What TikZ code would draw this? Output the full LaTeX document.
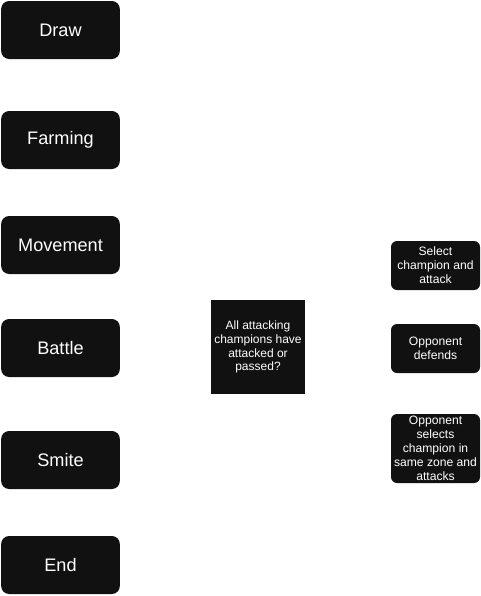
\documentclass[tikz,border=0pt]{standalone}
\usepackage{fontspec}
\setmainfont{Liberation Sans}
\definecolor{boxfill}{HTML}{111111}
\begin{document}
\begin{tikzpicture}[x=0.75pt,y=-0.75pt,
  phase/.style={fill=boxfill,rounded corners=6pt,text=white,font=\fontsize{13.6}{16}\selectfont,inner sep=0pt},
  small/.style={fill=boxfill,rounded corners=4.5pt,text=white,font=\fontsize{9.1}{10.4}\selectfont,align=center,inner sep=0pt},
  decide/.style={fill=boxfill,text=white,font=\fontsize{9}{10.4}\selectfont,align=center,inner sep=0pt}]
\useasboundingbox (0,0) rectangle (481,596);
\path[fill=white] (0,0) rectangle (481,596);
\node[phase,minimum width=89pt,minimum height=43.5pt] (draw) at (60.5,30) {Draw};
\node[phase,minimum width=89pt,minimum height=43.5pt] (farm) at (60.5,140) {Farming};
\node[phase,minimum width=89pt,minimum height=43.5pt] (move) at (60.5,245) {Movement};
\node[phase,minimum width=89pt,minimum height=43.5pt] (battle) at (60.5,348) {Battle};
\node[phase,minimum width=89pt,minimum height=43.5pt] (smite) at (60.5,460) {Smite};
\node[phase,minimum width=89pt,minimum height=43.5pt] (end) at (60.5,565) {End};
\node[decide,minimum width=70.5pt,minimum height=70.5pt] (check) at (258,347) {All attacking\\champions have\\attacked or\\passed?};
\node[small,minimum width=66.75pt,minimum height=36.75pt] (select) at (435.5,265.5) {Select\\champion and\\attack};
\node[small,minimum width=66.75pt,minimum height=36.75pt] (defend) at (435.5,348.5) {Opponent\\defends};
\node[small,minimum width=66.75pt,minimum height=51.75pt] (oppsel) at (435.5,448.5) {Opponent\\selects\\champion in\\same zone and\\attacks};
\end{tikzpicture}
\end{document}
